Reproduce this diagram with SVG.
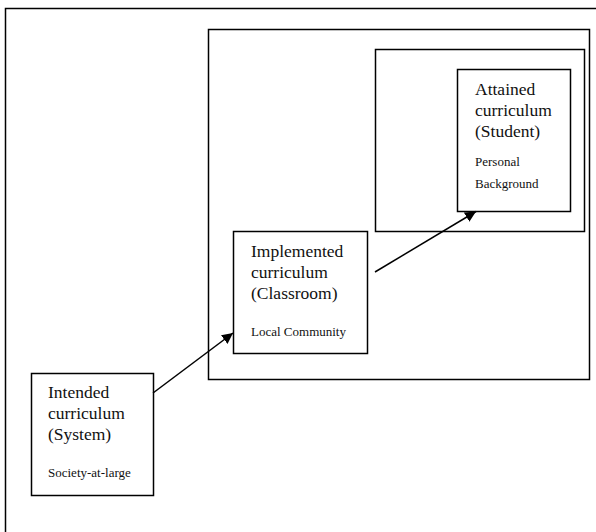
<svg xmlns="http://www.w3.org/2000/svg" width="596" height="532" viewBox="0 0 596 532">
  <style>
    .box { fill: none; stroke: #000; stroke-width: 1.5; }
    .node { fill: #fff; stroke: #000; stroke-width: 1.5; }
    .t { font-family: "Liberation Serif", "Times New Roman", serif; font-size: 17.5px; fill: #111; }
    .s { font-family: "Liberation Serif", "Times New Roman", serif; font-size: 13px; fill: #111; }
    .edge { stroke: #000; stroke-width: 1.5; fill: none; marker-end: url(#arr); }
  </style>
  <defs>
    <marker id="arr" markerUnits="userSpaceOnUse" markerWidth="12" markerHeight="11" refX="11" refY="5.5" orient="auto">
      <path d="M0,0 L11,5.5 L0,11 z" fill="#000"/>
    </marker>
  </defs>
  <rect x="0" y="0" width="596" height="532" fill="#fff"/>
  <g id="frame">
    <rect class="box" x="5.5" y="8.5" width="620" height="560"/>
  </g>
  <g id="community-context">
    <rect class="box" x="208.5" y="29.5" width="381" height="350"/>
  </g>
  <g id="personal-context">
    <rect class="box" x="375.5" y="49.5" width="209" height="182"/>
  </g>
  <g id="attained">
    <rect class="node" x="457.5" y="69.5" width="113" height="142"/>
    <text class="t" x="475" y="95">Attained</text>
    <text class="t" x="475" y="116">curriculum</text>
    <text class="t" x="475" y="137">(Student)</text>
    <text class="s" x="475" y="166">Personal</text>
    <text class="s" x="475" y="188">Background</text>
  </g>
  <g id="implemented">
    <rect class="node" x="233.5" y="231.5" width="134" height="122"/>
    <text class="t" x="251" y="257">Implemented</text>
    <text class="t" x="251" y="278">curriculum</text>
    <text class="t" x="251" y="299">(Classroom)</text>
    <text class="s" x="251" y="336">Local Community</text>
  </g>
  <g id="intended">
    <rect class="node" x="31.5" y="373.5" width="122" height="122"/>
    <text class="t" x="48" y="398">Intended</text>
    <text class="t" x="48" y="419">curriculum</text>
    <text class="t" x="48" y="440">(System)</text>
    <text class="s" x="48" y="477">Society-at-large</text>
  </g>
  <g id="connectors">
    <line class="edge" x1="153" y1="393" x2="233" y2="333"/>
    <line class="edge" x1="375" y1="272" x2="476" y2="211.5"/>
  </g>
</svg>
